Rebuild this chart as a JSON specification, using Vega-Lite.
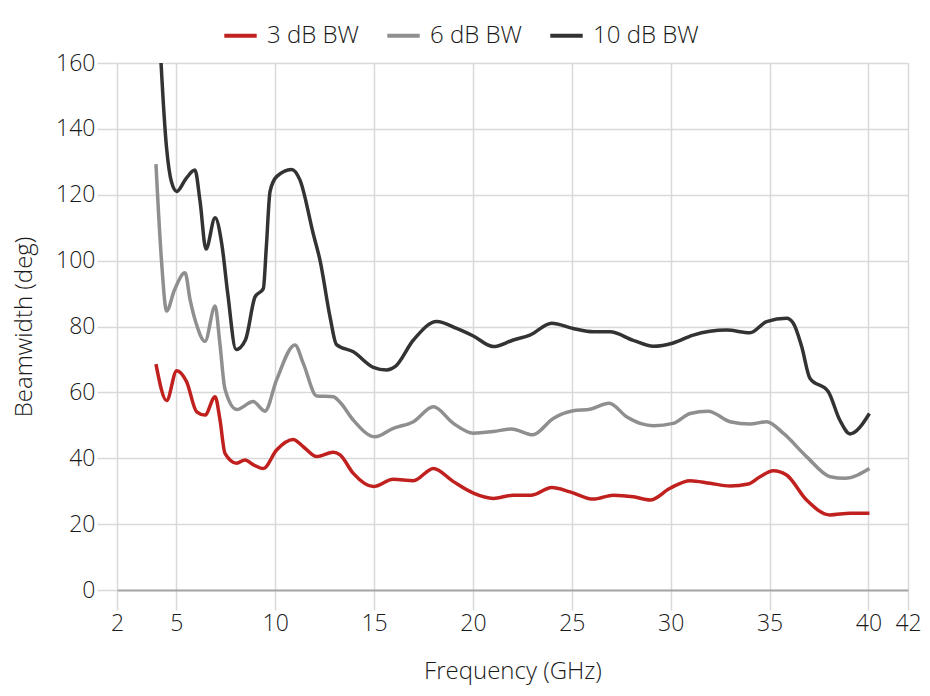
{
  "$schema": "https://vega.github.io/schema/vega-lite/v6.json",
  "width": 791,
  "height": 527,
  "autosize": {"type": "none"},
  "padding": {"left": 117, "top": 63, "right": 22, "bottom": 106},
  "background": "white",
  "config": {
    "view": {"stroke": null},
    "font": "Open Sans",
    "axis": {"labelFont": "Open Sans", "titleFont": "Open Sans", "labelColor": "#1a1a1a", "titleColor": "#1a1a1a", "titleFontWeight": 300, "labelFontWeight": 300},
    "legend": {"labelFont": "Open Sans", "labelFontWeight": 300, "labelColor": "#1a1a1a"}
  },
  "data": {
    "values": [
      {"f": 3.97, "v": 68.6, "s": "3 dB BW"},
      {"f": 4.51, "v": 57.5, "s": "3 dB BW"},
      {"f": 5.02, "v": 66.6, "s": "3 dB BW"},
      {"f": 5.52, "v": 63.2, "s": "3 dB BW"},
      {"f": 6.03, "v": 54.1, "s": "3 dB BW"},
      {"f": 6.45, "v": 53.1, "s": "3 dB BW"},
      {"f": 6.96, "v": 58.7, "s": "3 dB BW"},
      {"f": 7.2, "v": 52, "s": "3 dB BW"},
      {"f": 7.46, "v": 41.5, "s": "3 dB BW"},
      {"f": 8.05, "v": 38.5, "s": "3 dB BW"},
      {"f": 8.47, "v": 39.5, "s": "3 dB BW"},
      {"f": 8.9, "v": 38, "s": "3 dB BW"},
      {"f": 9.4, "v": 36.9, "s": "3 dB BW"},
      {"f": 10.07, "v": 42.5, "s": "3 dB BW"},
      {"f": 10.91, "v": 45.7, "s": "3 dB BW"},
      {"f": 11.42, "v": 43.5, "s": "3 dB BW"},
      {"f": 12.1, "v": 40.5, "s": "3 dB BW"},
      {"f": 12.94, "v": 41.8, "s": "3 dB BW"},
      {"f": 13.28, "v": 41, "s": "3 dB BW"},
      {"f": 13.95, "v": 35.4, "s": "3 dB BW"},
      {"f": 14.96, "v": 31.4, "s": "3 dB BW"},
      {"f": 15.97, "v": 33.6, "s": "3 dB BW"},
      {"f": 16.99, "v": 33.2, "s": "3 dB BW"},
      {"f": 18.0, "v": 36.9, "s": "3 dB BW"},
      {"f": 19.01, "v": 32.9, "s": "3 dB BW"},
      {"f": 20.02, "v": 29.4, "s": "3 dB BW"},
      {"f": 21.03, "v": 27.8, "s": "3 dB BW"},
      {"f": 22.04, "v": 28.8, "s": "3 dB BW"},
      {"f": 22.97, "v": 28.8, "s": "3 dB BW"},
      {"f": 23.98, "v": 31.1, "s": "3 dB BW"},
      {"f": 24.91, "v": 29.8, "s": "3 dB BW"},
      {"f": 26.09, "v": 27.6, "s": "3 dB BW"},
      {"f": 27.1, "v": 28.8, "s": "3 dB BW"},
      {"f": 28.11, "v": 28.3, "s": "3 dB BW"},
      {"f": 28.96, "v": 27.3, "s": "3 dB BW"},
      {"f": 29.97, "v": 30.9, "s": "3 dB BW"},
      {"f": 30.98, "v": 33.2, "s": "3 dB BW"},
      {"f": 31.99, "v": 32.4, "s": "3 dB BW"},
      {"f": 33.0, "v": 31.6, "s": "3 dB BW"},
      {"f": 33.92, "v": 32.2, "s": "3 dB BW"},
      {"f": 34.52, "v": 34.4, "s": "3 dB BW"},
      {"f": 35.19, "v": 36.2, "s": "3 dB BW"},
      {"f": 35.86, "v": 34.9, "s": "3 dB BW"},
      {"f": 36.87, "v": 27.3, "s": "3 dB BW"},
      {"f": 38.06, "v": 22.8, "s": "3 dB BW"},
      {"f": 39.07, "v": 23.3, "s": "3 dB BW"},
      {"f": 40.05, "v": 23.3, "s": "3 dB BW"},

      {"f": 3.97, "v": 129.3, "s": "6 dB BW"},
      {"f": 4.25, "v": 100, "s": "6 dB BW"},
      {"f": 4.51, "v": 84.7, "s": "6 dB BW"},
      {"f": 4.9, "v": 91, "s": "6 dB BW"},
      {"f": 5.44, "v": 96.3, "s": "6 dB BW"},
      {"f": 5.7, "v": 88, "s": "6 dB BW"},
      {"f": 6.0, "v": 81, "s": "6 dB BW"},
      {"f": 6.45, "v": 75.5, "s": "6 dB BW"},
      {"f": 6.96, "v": 86.2, "s": "6 dB BW"},
      {"f": 7.2, "v": 75, "s": "6 dB BW"},
      {"f": 7.46, "v": 61, "s": "6 dB BW"},
      {"f": 8.05, "v": 54.8, "s": "6 dB BW"},
      {"f": 8.89, "v": 57.2, "s": "6 dB BW"},
      {"f": 9.48, "v": 54.3, "s": "6 dB BW"},
      {"f": 10.07, "v": 63.8, "s": "6 dB BW"},
      {"f": 11.0, "v": 74.4, "s": "6 dB BW"},
      {"f": 11.42, "v": 68.8, "s": "6 dB BW"},
      {"f": 12.1, "v": 58.9, "s": "6 dB BW"},
      {"f": 12.94, "v": 58.7, "s": "6 dB BW"},
      {"f": 13.28, "v": 57, "s": "6 dB BW"},
      {"f": 13.95, "v": 51.6, "s": "6 dB BW"},
      {"f": 15.05, "v": 46.5, "s": "6 dB BW"},
      {"f": 15.97, "v": 49.1, "s": "6 dB BW"},
      {"f": 16.99, "v": 51.1, "s": "6 dB BW"},
      {"f": 18.0, "v": 55.6, "s": "6 dB BW"},
      {"f": 19.01, "v": 50.6, "s": "6 dB BW"},
      {"f": 20.02, "v": 47.6, "s": "6 dB BW"},
      {"f": 21.03, "v": 48.1, "s": "6 dB BW"},
      {"f": 21.95, "v": 48.9, "s": "6 dB BW"},
      {"f": 23.02, "v": 47.1, "s": "6 dB BW"},
      {"f": 24.06, "v": 52.1, "s": "6 dB BW"},
      {"f": 25.07, "v": 54.4, "s": "6 dB BW"},
      {"f": 25.92, "v": 54.9, "s": "6 dB BW"},
      {"f": 26.89, "v": 56.7, "s": "6 dB BW"},
      {"f": 27.77, "v": 52.6, "s": "6 dB BW"},
      {"f": 28.5, "v": 50.5, "s": "6 dB BW"},
      {"f": 29.12, "v": 49.9, "s": "6 dB BW"},
      {"f": 30.13, "v": 50.6, "s": "6 dB BW"},
      {"f": 30.98, "v": 53.6, "s": "6 dB BW"},
      {"f": 31.9, "v": 54.3, "s": "6 dB BW"},
      {"f": 33.0, "v": 51.1, "s": "6 dB BW"},
      {"f": 34.01, "v": 50.4, "s": "6 dB BW"},
      {"f": 34.85, "v": 51.1, "s": "6 dB BW"},
      {"f": 35.69, "v": 47.6, "s": "6 dB BW"},
      {"f": 36.87, "v": 40.5, "s": "6 dB BW"},
      {"f": 38.06, "v": 34.4, "s": "6 dB BW"},
      {"f": 38.81, "v": 33.9, "s": "6 dB BW"},
      {"f": 40.05, "v": 36.9, "s": "6 dB BW"},

      {"f": 4.0, "v": 187, "s": "10 dB BW"},
      {"f": 4.51, "v": 134, "s": "10 dB BW"},
      {"f": 4.75, "v": 124, "s": "10 dB BW"},
      {"f": 5.02, "v": 121, "s": "10 dB BW"},
      {"f": 5.5, "v": 125, "s": "10 dB BW"},
      {"f": 5.94, "v": 127.5, "s": "10 dB BW"},
      {"f": 6.2, "v": 118, "s": "10 dB BW"},
      {"f": 6.5, "v": 103.5, "s": "10 dB BW"},
      {"f": 6.96, "v": 113, "s": "10 dB BW"},
      {"f": 7.3, "v": 105, "s": "10 dB BW"},
      {"f": 7.6, "v": 90, "s": "10 dB BW"},
      {"f": 8.02, "v": 73, "s": "10 dB BW"},
      {"f": 8.5, "v": 76, "s": "10 dB BW"},
      {"f": 8.98, "v": 89, "s": "10 dB BW"},
      {"f": 9.4, "v": 91.5, "s": "10 dB BW"},
      {"f": 9.55, "v": 104, "s": "10 dB BW"},
      {"f": 9.74, "v": 121, "s": "10 dB BW"},
      {"f": 10.07, "v": 125.5, "s": "10 dB BW"},
      {"f": 10.83, "v": 127.7, "s": "10 dB BW"},
      {"f": 11.25, "v": 124.5, "s": "10 dB BW"},
      {"f": 11.93, "v": 108, "s": "10 dB BW"},
      {"f": 12.27, "v": 100, "s": "10 dB BW"},
      {"f": 12.77, "v": 83, "s": "10 dB BW"},
      {"f": 13.1, "v": 74.5, "s": "10 dB BW"},
      {"f": 13.95, "v": 72.3, "s": "10 dB BW"},
      {"f": 14.96, "v": 67.6, "s": "10 dB BW"},
      {"f": 15.64, "v": 66.8, "s": "10 dB BW"},
      {"f": 16.06, "v": 67.8, "s": "10 dB BW"},
      {"f": 16.99, "v": 75.9, "s": "10 dB BW"},
      {"f": 18.17, "v": 81.5, "s": "10 dB BW"},
      {"f": 19.18, "v": 79.4, "s": "10 dB BW"},
      {"f": 20.02, "v": 77.1, "s": "10 dB BW"},
      {"f": 21.03, "v": 73.9, "s": "10 dB BW"},
      {"f": 22.04, "v": 75.9, "s": "10 dB BW"},
      {"f": 22.88, "v": 77.4, "s": "10 dB BW"},
      {"f": 23.98, "v": 81.0, "s": "10 dB BW"},
      {"f": 25.07, "v": 79.4, "s": "10 dB BW"},
      {"f": 26.09, "v": 78.4, "s": "10 dB BW"},
      {"f": 26.93, "v": 78.4, "s": "10 dB BW"},
      {"f": 28.1, "v": 75.8, "s": "10 dB BW"},
      {"f": 29.12, "v": 74, "s": "10 dB BW"},
      {"f": 30.13, "v": 75, "s": "10 dB BW"},
      {"f": 31.14, "v": 77.4, "s": "10 dB BW"},
      {"f": 32.83, "v": 78.9, "s": "10 dB BW"},
      {"f": 34.01, "v": 78.1, "s": "10 dB BW"},
      {"f": 34.85, "v": 81.5, "s": "10 dB BW"},
      {"f": 35.86, "v": 82.5, "s": "10 dB BW"},
      {"f": 36.2, "v": 81, "s": "10 dB BW"},
      {"f": 36.62, "v": 74, "s": "10 dB BW"},
      {"f": 37.04, "v": 64.3, "s": "10 dB BW"},
      {"f": 37.97, "v": 60.2, "s": "10 dB BW"},
      {"f": 38.55, "v": 51.6, "s": "10 dB BW"},
      {"f": 39.07, "v": 47.4, "s": "10 dB BW"},
      {"f": 40.05, "v": 53.6, "s": "10 dB BW"}
    ]
  },
  "mark": {"type": "line", "strokeWidth": 3.5, "interpolate": "monotone", "clip": true},
  "encoding": {
    "x": {
      "field": "f",
      "type": "quantitative",
      "scale": {"domain": [2, 42], "nice": false, "zero": false},
      "axis": {
        "title": "Frequency (GHz)",
        "values": [2, 5, 10, 15, 20, 25, 30, 35, 40, 42],
        "grid": true,
        "gridColor": "#d9d9d9",
        "gridWidth": 1.5,
        "domainColor": "#a6a6a6",
        "domainWidth": 2,
        "tickColor": "#d9d9d9",
        "tickWidth": 1.5,
        "tickSize": 20,
        "labelPadding": 2,
        "labelFontSize": 23,
        "labelFlush": false,
        "titleFontSize": 24,
        "titlePadding": 24
      }
    },
    "y": {
      "field": "v",
      "type": "quantitative",
      "scale": {"domain": [0, 160], "nice": false},
      "axis": {
        "title": "Beamwidth (deg)",
        "values": [0, 20, 40, 60, 80, 100, 120, 140, 160],
        "grid": true,
        "gridColor": "#d9d9d9",
        "gridWidth": 1.5,
        "domain": false,
        "tickColor": "#d9d9d9",
        "tickWidth": 1.5,
        "tickSize": 20,
        "labelPadding": 2,
        "labelFontSize": 23,
        "titleFontSize": 24,
        "titlePadding": 19
      }
    },
    "color": {
      "field": "s",
      "type": "nominal",
      "scale": {"domain": ["3 dB BW", "6 dB BW", "10 dB BW"], "range": ["#c0201e", "#8f8f8f", "#333333"]},
      "legend": {
        "title": null,
        "orient": "none",
        "direction": "horizontal",
        "legendX": 105,
        "legendY": -46,
        "symbolType": "stroke",
        "symbolSize": 1050,
        "symbolStrokeWidth": 4,
        "labelFontSize": 24,
        "labelOffset": 8,
        "columnPadding": 20
      }
    }
  }
}
